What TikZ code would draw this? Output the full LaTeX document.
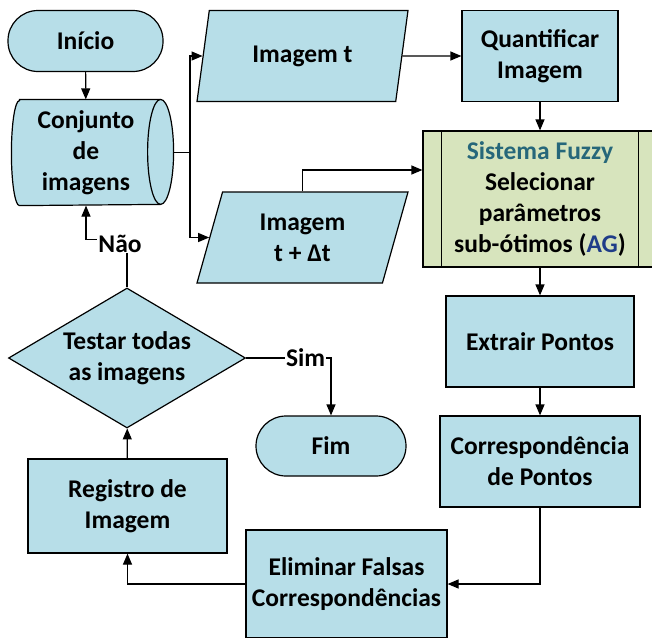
\documentclass[tikz,border=0pt]{standalone}
\usepackage{fontspec}
\setmainfont{Carlito}
\usetikzlibrary{shapes.geometric,arrows.meta,backgrounds}

\definecolor{caixa}{RGB}{183,222,232}
\definecolor{verdefz}{RGB}{215,228,189}
\definecolor{titulofz}{RGB}{38,103,122}
\definecolor{azulag}{RGB}{31,60,136}

\begin{document}
\begin{tikzpicture}[x=1pt,y=-1pt,
  base/.style={draw=black,line width=1.2pt,fill=caixa,align=center,
    font=\bfseries\fontsize{25.5}{31}\selectfont,inner sep=2pt},
  terminal/.style={base,rectangle,rounded corners=30pt,minimum height=61},
  processo/.style={base,rectangle,minimum height=91},
  dado/.style={base,trapezium,trapezium left angle=63.7,
    trapezium right angle=116.3,trapezium stretches body,
    minimum width=211,minimum height=91},
  seta/.style={line width=1.2pt,-{Triangle[length=11pt,width=9pt]}},
  linha/.style={line width=1.2pt},
  rotulo/.style={fill=white,inner sep=1pt,
    font=\bfseries\fontsize{25.5}{31}\selectfont}]

  \useasboundingbox (0,0) rectangle (652,637);
  \clip (0,0) rectangle (652,637);

  % coluna da esquerda
  \node[terminal,minimum width=155] (ini) at (85.5,41) {Início};
  \node[base,draw=none,fill=none,minimum width=148,minimum height=105]
    (conj) at (86,152.5) {Conjunto\\de\\imagens};
  \begin{scope}[on background layer]
    \draw[linha,fill=caixa] ([xshift=8pt]conj.north west) -- (conj.north east)
      arc[start angle=90,end angle=-90,x radius=13pt,y radius=52.5pt]
      -- ([xshift=8pt]conj.south west)
      arc[start angle=270,end angle=90,x radius=8pt,y radius=52.5pt] -- cycle;
    \draw[linha] (conj.north east)
      arc[start angle=90,end angle=270,x radius=13pt,y radius=52.5pt];
  \end{scope}
  \node[base,diamond,aspect=1.69,minimum width=237,minimum height=140,
    inner sep=0pt] (dec) at (127,358) {Testar todas\\as imagens};
  \node[processo,minimum width=199,minimum height=94] (reg) at (127.5,506)
    {Registro de\\Imagem};
  \node[terminal,minimum width=150,minimum height=60] (fim) at (331,446) {Fim};

  % imagens
  \node[dado] (imt) at (302.5,56) {Imagem t};
  \node[dado] (imdt) at (302.5,237.5) {Imagem\\t + Δt};

  % coluna da direita
  \node[processo,minimum width=156] (quant) at (540,56) {Quantificar\\Imagem};
  \node[base,fill=verdefz,minimum width=234,minimum height=136] (fz) at (540,199)
    {\textcolor{titulofz}{Sistema Fuzzy}\\Selecionar\\parâmetros\\
     sub-ótimos (\textcolor{azulag}{AG})};
  \draw[linha] ([xshift=19pt]fz.north west) -- ([xshift=19pt]fz.south west);
  \draw[linha] ([xshift=-19pt]fz.north east) -- ([xshift=-19pt]fz.south east);
  \node[processo,minimum width=188] (extr) at (540,341.5) {Extrair Pontos};
  \node[processo,minimum width=200] (corr) at (540,461.5)
    {Correspondência\\de Pontos};
  \node[processo,minimum width=201,minimum height=108] (elim) at (346.5,584)
    {Eliminar Falsas\\Correspondências};

  % ligacoes
  \coordinate (div) at (190,152.5);
  \draw[seta] (ini) -- (conj);
  \draw[linha] ([xshift=13pt]conj.east) -- (div);
  \draw[seta] (div) |- (imt.west);
  \draw[seta] (div) |- (imdt.west);
  \draw[seta] (imt.east) -- (quant.west);
  \draw[seta] (imdt.north) |- ([yshift=29pt]fz.west);
  \draw[seta] (quant) -- (fz);
  \draw[seta] (fz) -- (extr);
  \draw[seta] (extr) -- (corr);
  \draw[seta] (corr.south) |- (elim.east);
  \draw[seta] (elim.west) -| (reg.south);
  \draw[seta] (reg) -- (dec);
  \draw[seta] (dec.east) -| node[rotulo,pos=0.35] {Sim} (fim.north);
  \draw[seta] (dec.north) -- ++(0,-48) node[rotulo,xshift=-7pt,yshift=-4pt] {Não}
    -| (conj.south);
\end{tikzpicture}
\end{document}
